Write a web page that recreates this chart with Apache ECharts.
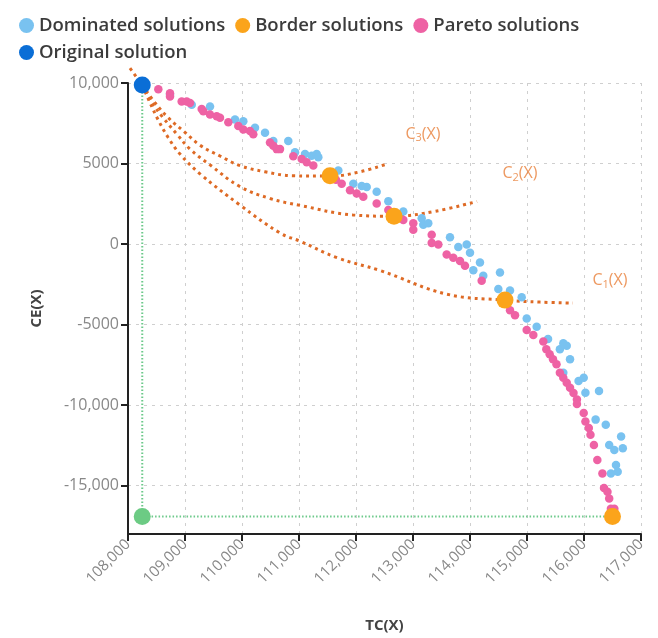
<!DOCTYPE html>
<html>
<head>
<meta charset="utf-8">
<script src="https://cdn.jsdelivr.net/npm/echarts@6/dist/echarts.min.js"></script>
<style>
html,body{margin:0;padding:0;background:#fff;}
#c{width:658px;height:638px;}
</style>
</head>
<body>
<div id="c"></div>
<script>
// ---- data (TC, CE) ----
const dominatedPoints = [
  [108737,9265],[109118,8652],[109439,8548],[109877,7733],[110023,7629],[110228,7224],
  [110404,6918],[110549,6403],[110812,6403],[110930,5693],[111105,5589],[111223,5484],
  [111310,5589],[111339,5386],[111690,4565],[111953,3750],[112100,3610],[112188,3548],
  [112363,3242],[112567,2666],[112830,2017],[113153,1606],[113181,1196],[113268,1300],
  [113649,423],[113795,-189],[113942,-30],[114000,-539],[114175,-1151],[114058,-1623],
  [114233,-1966],[114526,-1764],[114497,-2787],[114702,-2885],[114907,-3296],[114995,-4625],
  [115170,-5133],[115369,-5899],[115577,-6524],[115697,-6316],[115755,-7149],[115637,-7983],
  [115905,-8504],[115995,-8295],[116025,-9232],[116263,-9128],[116204,-10899],[116382,-11218],
  [116442,-12468],[116532,-12780],[116681,-12676],[116651,-11947],[116472,-14238],[116561,-13712],
  [116591,-14135],[115637,-6157]
];
const paretoPoints = [
  [108532,9614],[108737,9369],[108737,9161],[108942,8854],[109030,8854],[109088,8756],
  [109293,8389],[109321,8242],[109439,8039],[109556,7935],[109614,7837],[109760,7568],
  [109935,7323],[110023,7120],[110140,7016],[110198,6814],[110491,6305],[110549,6097],
  [110609,5895],[110667,5895],[110900,5448],[111047,5282],[111135,5080],[111251,4872],
  [111649,3996],[111749,3750],[111895,3340],[112012,3138],[112128,2936],[112363,2525],
  [112567,2115],[112830,1502],[113005,1300],[113005,889],[113328,583],[113328,74],
  [113444,-30],[113591,-643],[113707,-845],[113825,-1047],[113912,-1353],[114205,-2272],
  [114702,-4110],[114790,-4416],[114995,-5335],[115111,-5642],[115286,-6053],[115339,-6524],
  [115398,-6837],[115456,-7149],[115518,-7462],[115577,-7983],[115637,-8296],[115697,-8608],
  [115755,-8921],[115816,-9239],[115876,-9650],[115876,-9925],[115995,-10483],[116025,-11009],
  [116084,-11426],[116114,-11843],[116174,-12468],[116234,-13405],[116323,-14238],[116351,-15139],
  [116412,-15384],[116442,-15801],[116472,-16426],[116532,-16426]
];
const borderPoints = [[111544,4240],[112667,1728],[114614,-3480],[116500,-16920]];
const originalPoint = [[108250,9880]];
const idealPoint = [[108250,-16920]];
const guideLine = [[108250,9880],[108250,-16920],[116500,-16920]];
const curveC1 = [
  [108250,9880],[108386,8775],[108526,7733],[108702,6630],[108912,5589],[109263,4363],
  [109965,2421],[110667,687],[111018,178],[111667,-845],[112421,-1641],[113597,-3112],
  [114614,-3480],[115228,-3603],[115807,-3664]
];
const curveC2 = [
  [108250,9880],[108421,8775],[108614,7856],[108860,6814],[109088,5895],[109439,4915],
  [109965,3567],[110491,2831],[111018,2403],[111947,1808],[112667,1728],[113386,2035],[114123,2648]
];
const curveC3 = [
  [108250,9880],[108474,8775],[108702,7856],[109000,6937],[109263,6140],[109614,5466],
  [109965,4872],[110404,4486],[110895,4240],[111561,4222],[112070,4486],[112544,4976]
];
const curveExtension = [[108035,10919],[108250,9880]];
const curveLabels = [
  {name:'C{s|1}(X)', value:[116456,-2254]},
  {name:'C{s|2}(X)', value:[114877,4363]},
  {name:'C{s|3}(X)', value:[113175,6814]}
];
const xMin = 108000, xMax = 117000, xStep = 1000;
const yMin = -18000, yMax = 10000;

const FONT = '"Open Sans", sans-serif';
const curveColor = '#DE6A25';
function fmtY(v){ return Math.abs(v) >= 10000 ? v.toLocaleString('en-US') : String(v); }

const curveStyle = {color: curveColor, width: 3, type: [3, 4]};
function curve(data){
  return {type:'line', data, smooth:0.4, showSymbol:false, symbol:'none', silent:true, clip:false,
          lineStyle: curveStyle, z:3};
}

const chart = echarts.init(document.getElementById('c'));
chart.setOption({
  animation:false,
  backgroundColor:'#fff',
  textStyle:{fontFamily:FONT},
  legend:[{
    data:['Dominated solutions','Border solutions','Pareto solutions'],
    left:14, top:11, icon:'circle', itemWidth:15, itemHeight:15, itemGap:10,
    textStyle:{fontSize:18.5, fontWeight:600, color:'#3b3b3b', fontFamily:FONT}
  },{
    data:['Original solution'],
    left:14, top:38, icon:'circle', itemWidth:15, itemHeight:15,
    textStyle:{fontSize:18.5, fontWeight:600, color:'#3b3b3b', fontFamily:FONT}
  }],
  grid:{left:128, right:17, top:83, bottom:98},
  xAxis:{
    type:'value', min:xMin, max:xMax, interval:xStep,
    name:'TC(X)', nameLocation:'middle', nameGap:84,
    nameTextStyle:{fontSize:15, fontWeight:'bold', color:'#444'},
    axisLine:{show:true, onZero:false, lineStyle:{color:'#222', width:2}},
    axisTick:{show:true, length:7, lineStyle:{color:'#222', width:2}},
    axisLabel:{rotate:45, fontSize:15, color:'#888', margin:8, formatter:v=>v.toLocaleString('en-US')},
    splitLine:{show:true, lineStyle:{color:'#cfcfcf', type:[3,5], width:1}}
  },
  yAxis:{
    type:'value', min:yMin, max:yMax, splitNumber:5,
    name:'CE(X)', nameLocation:'middle', nameGap:84,
    nameTextStyle:{fontSize:15, fontWeight:'bold', color:'#444'},
    axisLine:{show:true, onZero:false, lineStyle:{color:'#222', width:2}},
    axisTick:{show:true, length:7, lineStyle:{color:'#222', width:2}},
    axisLabel:{fontSize:16, color:'#888', margin:9, formatter:fmtY, showMinLabel:false},
    splitLine:{show:true, lineStyle:{color:'#cfcfcf', type:[3,5], width:1}}
  },
  series:[
    {type:'line', data:guideLine, showSymbol:false, symbol:'none', silent:true,
     lineStyle:{color:'#6cc98a', width:2, type:[1.5,2]}, z:1},
    curve(curveC1), curve(curveC2), curve(curveC3),
    {type:'line', data:curveExtension, showSymbol:false, symbol:'none', silent:true, clip:false,
     lineStyle:curveStyle, z:3},
    {name:'Dominated solutions', type:'scatter', data:dominatedPoints, symbolSize:8.5,
     itemStyle:{color:'#79C2F0', opacity:1}, z:4},
    {name:'Pareto solutions', type:'scatter', data:paretoPoints, symbolSize:8.5,
     itemStyle:{color:'#EE62A4', opacity:1}, z:5},
    {name:'Border solutions', type:'scatter', data:borderPoints, symbolSize:17,
     itemStyle:{color:'#FBA41B', opacity:1}, z:6},
    {name:'Original solution', type:'scatter', data:originalPoint, symbolSize:17,
     itemStyle:{color:'#0A6ED6', opacity:1}, z:6},
    {name:'ideal', type:'scatter', data:idealPoint, symbolSize:17,
     itemStyle:{color:'#6CCB84', opacity:1}, z:6},
    {name:'labels', type:'scatter', data:curveLabels, symbolSize:0, silent:true, z:7,
     label:{show:true, position:'inside', formatter:p=>p.name, color:'#E8803A', fontSize:16,
       rich:{s:{fontSize:11, color:'#E8803A', verticalAlign:'bottom', padding:[8,0,0,0]}}}}
  ]
});
</script>
</body>
</html>
